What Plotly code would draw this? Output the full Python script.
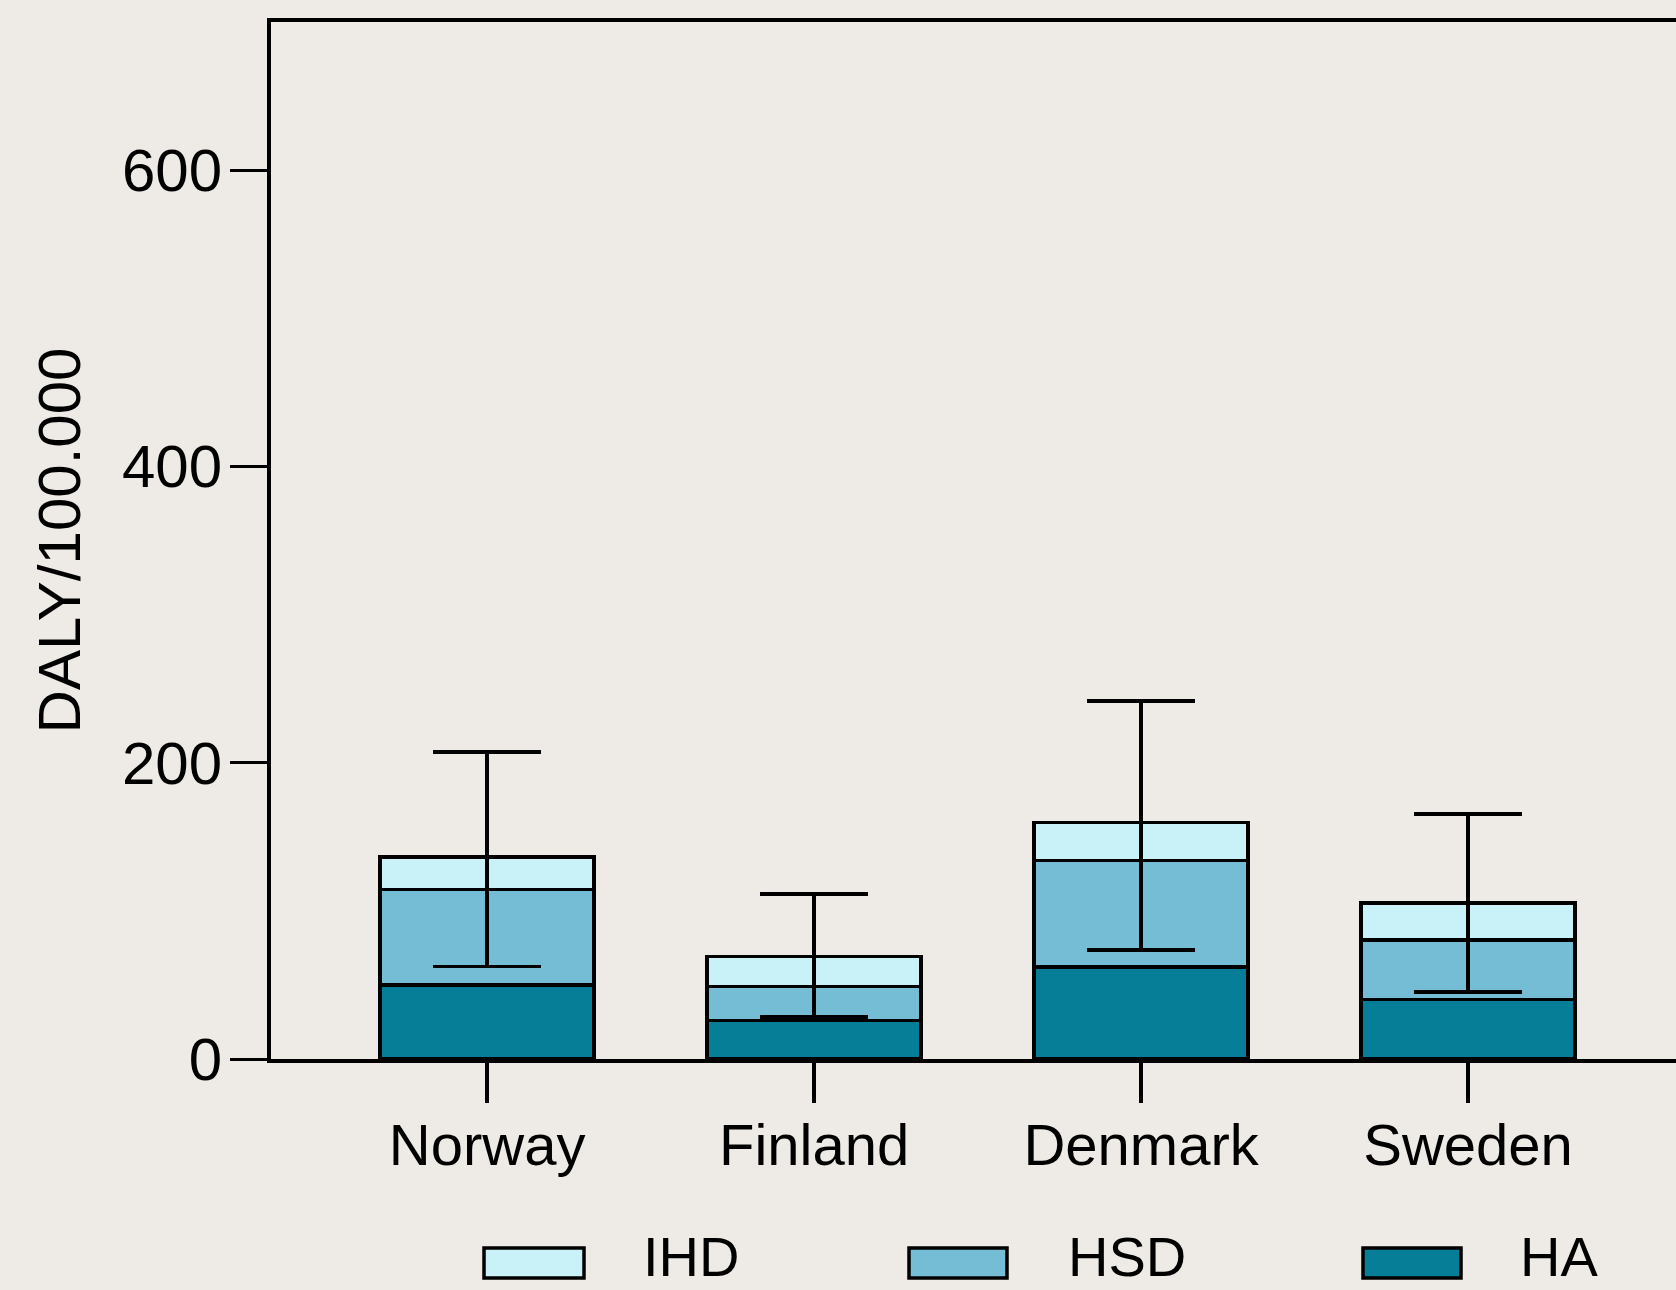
import plotly.graph_objects as go

countries = ["Norway", "Finland", "Denmark", "Sweden"]
ha = [50, 26, 62, 40]
hsd = [64.4, 23, 72, 40.3]
ihd = [22, 20.3, 25.6, 25]
err_plus = [71, 42, 82, 60]
err_minus = [74, 41, 86, 60]

series_names = ["IHD", "HSD", "HA"]
colors = {"IHD": "#C8F1F8", "HSD": "#74BDD5", "HA": "#077E97"}
y_ticks = [0, 200, 400, 600]

BG = "#EEEBE6"
FONT = "Liberation Sans, Arial, sans-serif"

W, H = 1676, 1290
L, R, T, B = 271, 0, 22, 231
PW, PH = W - L - R, H - T - B

fig = go.Figure()
bar_w = 0.654
for name, vals in [("HA", ha), ("HSD", hsd)]:
    fig.add_trace(go.Bar(x=countries, y=vals, name=name, width=bar_w,
                         marker=dict(color=colors[name], line=dict(color="black", width=3.5)),
                         showlegend=False))
fig.add_trace(go.Bar(x=countries, y=ihd, name="IHD", width=bar_w,
                     marker=dict(color=colors["IHD"], line=dict(color="black", width=3.5)),
                     error_y=dict(type="data", symmetric=False, array=err_plus, arrayminus=err_minus,
                                  color="black", thickness=3.5, width=54),
                     showlegend=False))

def px_to_paper_x(px):
    return (px - L) / PW

def px_to_paper_y(py):
    return (H - B - py) / PH

# manual legend (wide swatches as in the reference)
legend_items = [("IHD", 484, 584, 641), ("HSD", 909, 1007, 1066), ("HA", 1363, 1461, 1518)]
for name, x0, x1, tx in legend_items:
    fig.add_shape(type="rect", xref="paper", yref="paper",
                  x0=px_to_paper_x(x0), x1=px_to_paper_x(x1),
                  y0=px_to_paper_y(1278), y1=px_to_paper_y(1248),
                  fillcolor=colors[name], line=dict(color="black", width=3.5))
    fig.add_annotation(xref="paper", yref="paper", x=px_to_paper_x(tx), y=px_to_paper_y(1256),
                       xanchor="left", yanchor="middle", text=name, showarrow=False,
                       font=dict(family=FONT, size=56, color="black"))

fig.update_layout(
    width=W, height=H,
    margin=dict(l=L, r=R, t=T, b=B, pad=0),
    paper_bgcolor=BG, plot_bgcolor=BG,
    barmode="stack",
    font=dict(family=FONT, size=58, color="black"),
    showlegend=False,
)
fig.update_xaxes(type="category", range=[-0.661, 3.636],
                 showline=True, linecolor="black", linewidth=4, mirror=True,
                 ticks="outside", ticklen=40, tickwidth=3.5, tickcolor="black",
                 showgrid=False, zeroline=False,
                 ticklabelstandoff=-8,
                 tickfont=dict(family=FONT, size=58, color="black"))
fig.update_yaxes(range=[0, 700], tickvals=y_ticks, ticktext=[str(v) for v in y_ticks],
                 showline=True, linecolor="black", linewidth=4, mirror=False,
                 ticks="outside", ticklen=37, tickwidth=3, tickcolor="black",
                 showgrid=False, zeroline=False,
                 tickfont=dict(family=FONT, size=60, color="black"),
                 ticklabelstandoff=-4,
                 title=dict(text="DALY/100.000", font=dict(family=FONT, size=60, color="black"), standoff=23))

fig.write_html("out.html", config={"displayModeBar": False},
               post_script="document.body.style.margin='0';document.body.style.background='%s';" % BG)
